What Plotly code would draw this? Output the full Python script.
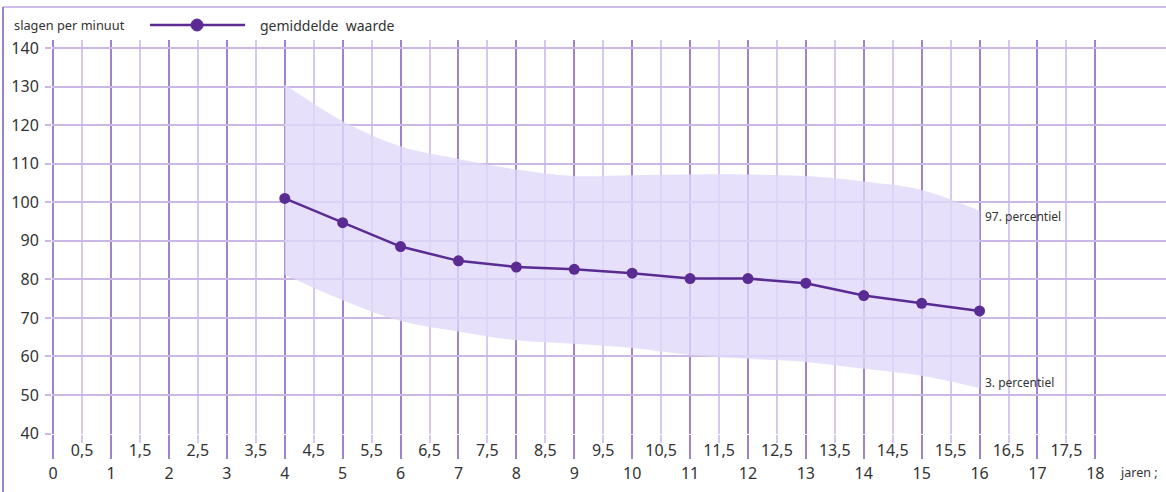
import plotly.graph_objects as go

# ---- data ----
ages = [4, 5, 6, 7, 8, 9, 10, 11, 12, 13, 14, 15, 16]
mean_hr = [101.0, 94.7, 88.5, 84.8, 83.2, 82.6, 81.6, 80.2, 80.2, 79.0, 75.8, 73.8, 71.8]
p97 = [130.5, 121.0, 114.5, 111.2, 108.5, 106.8, 107.0, 107.2, 107.2, 106.8, 105.4, 103.2, 97.8]
p3 = [81.2, 74.6, 69.2, 66.5, 64.2, 63.3, 62.2, 60.4, 59.4, 58.6, 56.8, 55.0, 51.8]

int_ticks = list(range(0, 19))
int_labels = [str(v) for v in int_ticks]
half_ticks = [v + 0.5 for v in range(0, 18)]
half_labels = [f"{int(v)},5" for v in half_ticks]
y_ticks = list(range(40, 141, 10))

FONT = "Noto Sans"
TXT = "#333333"
HGRID = "#cbb8e6"
VGRID = "#9f83cd"
VMINOR = "#d6c8ef"
LINE = "#5a2b92"

fig = go.Figure()

fig.add_trace(go.Scatter(
    x=ages, y=p3, mode="lines", line=dict(width=0, shape="spline", color="rgba(0,0,0,0)"),
    showlegend=False, hoverinfo="skip"))
fig.add_trace(go.Scatter(
    x=ages, y=p97, mode="lines", line=dict(width=0, shape="spline", color="rgba(0,0,0,0)"),
    fill="tonexty", fillcolor="rgba(224,216,250,0.8)", showlegend=False, hoverinfo="skip"))
fig.add_trace(go.Scatter(
    x=ages, y=mean_hr, mode="lines+markers", name="gemiddelde  waarde",
    line=dict(color=LINE, width=2.5), marker=dict(color=LINE, size=11), showlegend=False))

# invisible trace for the half-unit labels axis
fig.add_trace(go.Scatter(x=[half_ticks[0]], y=[None], xaxis="x2", showlegend=False, hoverinfo="skip"))

fig.add_annotation(x=ages[-1], y=p97[-1] - 1.6, text="97. percentiel", showarrow=False,
                   xanchor="left", xshift=3, font=dict(family=FONT, size=12, color=TXT))
fig.add_annotation(x=ages[-1], y=p3[-1] + 1.4, text="3. percentiel", showarrow=False,
                   xanchor="left", xshift=3, font=dict(family=FONT, size=12, color=TXT))

# y-axis title (horizontal, top-left)
fig.add_annotation(xref="paper", yref="paper", x=-0.036, y=1.038, xanchor="left", yanchor="middle",
                   text="slagen per minuut", showarrow=False,
                   font=dict(family=FONT, size=12.8, color=TXT))
# x-axis title
fig.add_annotation(xref="paper", yref="paper", x=0.957, y=-0.098, xanchor="left", yanchor="middle",
                   text="jaren ;", showarrow=False,
                   font=dict(family=FONT, size=12.5, color=TXT))

# legend sample (drawn) + label
LEG_Y = 1.038
fig.add_shape(type="line", xref="paper", yref="paper", x0=0.088, x1=0.1733, y0=LEG_Y, y1=LEG_Y,
              line=dict(color=LINE, width=2.5))
fig.add_shape(type="circle", xref="paper", yref="paper", xsizemode="pixel", ysizemode="pixel",
              xanchor=0.1302, yanchor=LEG_Y, x0=-6, x1=6, y0=-6, y1=6,
              fillcolor=LINE, line=dict(color=LINE, width=1))
fig.add_annotation(xref="paper", yref="paper", x=0.185, y=LEG_Y, xanchor="left", yanchor="middle",
                   text="gemiddelde  waarde", showarrow=False,
                   font=dict(family=FONT, size=14, color=TXT))

# frame
fig.add_shape(type="line", xref="paper", yref="paper", x0=-0.044, x1=1.0, y0=1.0838, y1=1.0838,
              line=dict(color="#cdbde8", width=2))
fig.add_shape(type="line", xref="paper", yref="paper", x0=-0.044, x1=-0.044, y0=1.0838, y1=-0.16,
              line=dict(color="#9c82c8", width=2))

fig.update_layout(
    width=1166, height=492,
    margin=dict(l=52, r=0, t=40, b=58, autoexpand=False),
    paper_bgcolor="white", plot_bgcolor="white",
    font=dict(family=FONT, size=14, color=TXT),
    showlegend=False,
    xaxis=dict(range=[-0.02, 19.22], tickmode="array", tickvals=int_ticks, ticktext=int_labels,
               showgrid=True, gridcolor=VGRID, gridwidth=2, zeroline=False, showline=False,
               automargin=False,
               ticks="outside", ticklen=24, tickwidth=2, tickcolor=VGRID, ticklabelstandoff=1,
               tickfont=dict(family=FONT, size=16, color=TXT),
               minor=dict(tickvals=half_ticks, showgrid=True, gridcolor=VMINOR, gridwidth=1.5,
                          ticks="outside", ticklen=8, tickwidth=1.5, tickcolor=VMINOR)),
    xaxis2=dict(range=[-0.02, 19.22], overlaying="x", anchor="y", side="bottom",
                tickmode="array", tickvals=half_ticks, ticktext=half_labels,
                showgrid=False, zeroline=False, showline=False, automargin=False,
                ticks="outside", ticklen=2, tickcolor="rgba(0,0,0,0)",
                tickfont=dict(family=FONT, size=16, color=TXT)),
    yaxis=dict(range=[39.9, 142.07], tickmode="array", tickvals=y_ticks,
               showgrid=True, gridcolor=HGRID, gridwidth=2, zeroline=False, showline=False,
               automargin=False,
               ticks="outside", ticklen=6, tickwidth=2, tickcolor=HGRID, ticklabelstandoff=3,
               tickfont=dict(family=FONT, size=16, color=TXT)),
)

fig.write_html("out.html", config={"displayModeBar": False},
               post_script="document.body.style.margin = '0px';")
